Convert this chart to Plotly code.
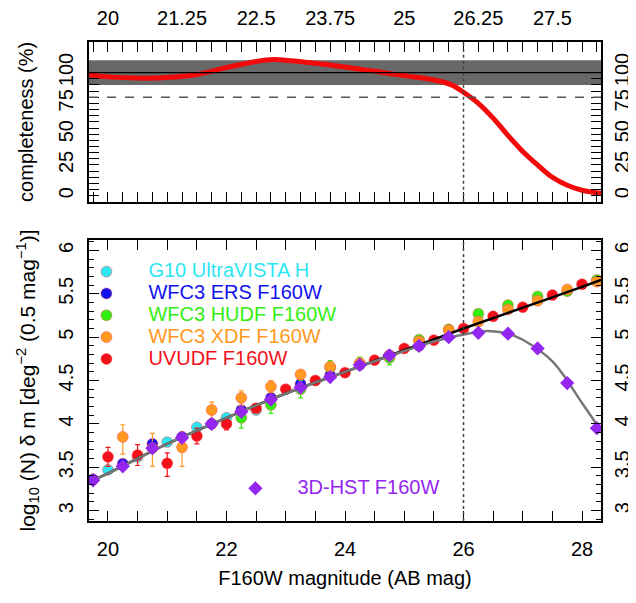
import plotly.graph_objects as go

# ---------------- data ----------------
# completeness curve (top panel)
comp_mag = [19.68, 20.0, 20.5, 21.0, 21.5, 22.0, 22.5, 22.8, 23.0, 23.5, 24.0, 24.5, 25.0, 25.5, 25.8,
            26.0, 26.25, 26.5, 26.75, 27.0, 27.25, 27.5, 27.75, 28.0, 28.32]
comp_pct = [98, 96.5, 95.5, 96, 98.5, 104, 109, 110.5, 110, 107.5, 104.5, 101, 97.5, 94, 90,
            84, 75, 63, 49, 36, 25, 15, 8.5, 4.5, 2]
band_limits = [90, 110]
ref_level = 100
threshold_level = 80
mag_limit = 26.0

# number counts (bottom panel)
g10_mag = [20.0, 20.5, 21.0, 21.5, 22.0, 22.5]
g10_logn = [3.47, 3.62, 3.79, 3.96, 4.07, 4.16]

ers_mag = [19.75, 20.25, 20.75, 21.25, 21.75, 22.25, 22.75, 23.25, 23.75, 24.25, 24.75, 25.25]
ers_logn = [3.36, 3.54, 3.77, 3.85, 4.0, 4.16, 4.3, 4.46, 4.56, 4.68, 4.79, 4.9]

hudf_mag = [22.25, 22.75, 23.25, 23.75, 24.25, 24.75, 25.25, 25.75, 26.25, 26.75, 27.25, 27.75, 28.25]
hudf_logn = [4.07, 4.22, 4.4, 4.65, 4.7, 4.76, 4.97, 5.09, 5.27, 5.37, 5.47, 5.53, 5.66]
hudf_err = [0.12, 0.1, 0.1, 0.08, 0.07, 0.08, 0.05, 0.04, 0.03, 0.03, 0.02, 0.02, 0.02]

xdf_mag = [20.25, 20.75, 21.25, 21.75, 22.25, 22.75, 23.25, 23.75, 24.25, 24.75, 25.25, 25.75,
           26.25, 26.75, 27.25, 27.75, 28.25]
xdf_logn = [3.85, 3.72, 3.73, 4.16, 4.3, 4.43, 4.57, 4.66, 4.7, 4.79, 4.95, 5.08,
            5.18, 5.32, 5.42, 5.55, 5.64]
xdf_err_plus = [0.14, 0.17, 0.18, 0.09, 0.08, 0.07, 0.05, 0.04, 0.04, 0.03, 0.03, 0.02,
                0.02, 0.02, 0.02, 0.02, 0.02]
xdf_err_minus = [0.2, 0.21, 0.22, 0.1, 0.09, 0.07, 0.05, 0.04, 0.04, 0.03, 0.03, 0.02,
                 0.02, 0.02, 0.02, 0.02, 0.02]

uvudf_mag = [20.0, 20.5, 21.0, 21.5, 22.0, 22.5, 23.0, 23.5, 24.0, 24.5, 25.0, 25.5, 26.0,
             26.5, 27.0, 27.5, 28.0]
uvudf_logn = [3.62, 3.64, 3.545, 3.86, 4.0, 4.18, 4.4, 4.5, 4.59, 4.735, 4.87, 4.965, 5.1,
              5.24, 5.345, 5.485, 5.61]
uvudf_err_plus = [0.11, 0.12, 0.12, 0.09, 0.07, 0.05, 0.04, 0.03, 0.03, 0.02, 0.02, 0.02, 0.02,
                  0.02, 0.02, 0.02, 0.02]
uvudf_err_minus = [0.11, 0.12, 0.15, 0.09, 0.07, 0.05, 0.04, 0.03, 0.03, 0.02, 0.02, 0.02, 0.02,
                   0.02, 0.02, 0.02, 0.02]

hst3d_mag = [19.75, 20.25, 20.75, 21.25, 21.75, 22.25, 22.75, 23.25, 23.75, 24.25, 24.75, 25.25,
             25.75, 26.25, 26.75, 27.25, 27.75, 28.25]
hst3d_logn = [3.35, 3.51, 3.72, 3.84, 4.0, 4.14, 4.28, 4.42, 4.54, 4.68, 4.79, 4.9,
              5.0, 5.05, 5.04, 4.87, 4.47, 3.95]

fit_all_mag = [19.68, 20, 21, 22, 23, 24, 25, 26, 27, 28, 28.32]
fit_all_logn = [3.33, 3.43, 3.77, 4.07, 4.35, 4.6, 4.85, 5.1, 5.34, 5.58, 5.66]

fit_3d_mag = [19.68, 20, 21, 22, 23, 24, 25, 25.5, 26, 26.4, 26.75, 27, 27.5, 28, 28.32]
fit_3d_logn = [3.33, 3.43, 3.77, 4.07, 4.35, 4.6, 4.84, 4.95, 5.03, 5.07, 5.04, 4.97, 4.72, 4.24, 3.92]

top_ticks = [20, 21.25, 22.5, 23.75, 25, 26.25, 27.5]
top_ticktext = ["20", "21.25", "22.5", "23.75", "25", "26.25", "27.5"]
comp_ticks = [0, 25, 50, 75, 100]
bot_xticks = [20, 22, 24, 26, 28]
bot_yticks = [3, 3.5, 4, 4.5, 5, 5.5, 6]
bot_yticktext = ["3", "3.5", "4", "4.5", "5", "5.5", "6"]

# ---------------- style ----------------
FONT = "Liberation Sans, Arial, Helvetica, sans-serif"
C_CYAN = "#2DE6F2"
C_BLUE = "#1212EE"
C_GREEN = "#33EE11"
C_ORANGE = "#FF9922"
C_RED = "#F2101A"
C_PURPLE = "#9426F0"
HALO = "rgba(255,70,70,0.45)"

XR = [19.68, 28.32]

fig = go.Figure()

# top panel
fig.add_shape(type="rect", xref="x domain", x0=0, x1=1, yref="y",
              y0=band_limits[0], y1=band_limits[1], fillcolor="#686868",
              line_width=0, layer="below")
fig.add_shape(type="line", xref="x domain", x0=0, x1=1, yref="y",
              y0=ref_level, y1=ref_level, line=dict(color="black", width=1.2))
fig.add_shape(type="line", xref="x domain", x0=0, x1=1, yref="y",
              y0=threshold_level, y1=threshold_level,
              line=dict(color="#555555", width=1.5, dash="dash"))
fig.add_shape(type="line", xref="x", x0=mag_limit, x1=mag_limit, yref="y domain",
              y0=0, y1=1, line=dict(color="#444444", width=1.5, dash="dot"))
fig.add_shape(type="line", xref="x2", x0=mag_limit, x1=mag_limit, yref="y2 domain",
              y0=0, y1=1, line=dict(color="#444444", width=1.5, dash="dot"))

fig.add_trace(go.Scatter(x=comp_mag, y=comp_pct, mode="lines", line_shape="spline",
                         line=dict(color="#F20A0A", width=5), showlegend=False,
                         xaxis="x", yaxis="y"))
# placeholders so the label-only overlay axes are drawn
fig.add_trace(go.Scatter(x=[None], y=[None], xaxis="x", yaxis="y3", showlegend=False))
fig.add_trace(go.Scatter(x=[None], y=[None], xaxis="x3", yaxis="y", showlegend=False))


def lab(text, color):
    return "<span style='color:%s;font-size:20px'>%s</span>" % (color, text)


def circ(name, color, x, y, ep=None, em=None):
    err = None
    if ep is not None:
        err = dict(type="data", array=ep, arrayminus=em if em is not None else ep,
                   color=color, thickness=1.2, width=2.5)
    return go.Scatter(x=x, y=y, mode="markers", name=lab(name, color),
                      marker=dict(symbol="circle", size=11, color=color,
                                  line=dict(color=HALO, width=1)),
                      error_y=err, xaxis="x2", yaxis="y2", legend="legend")


fig.add_trace(circ("G10 UltraVISTA H", C_CYAN, g10_mag, g10_logn))
fig.add_trace(circ("WFC3 ERS F160W", C_BLUE, ers_mag, ers_logn))
fig.add_trace(circ("WFC3 HUDF F160W", C_GREEN, hudf_mag, hudf_logn, hudf_err))
fig.add_trace(circ("WFC3 XDF F160W", C_ORANGE, xdf_mag, xdf_logn, xdf_err_plus, xdf_err_minus))
fig.add_trace(circ("UVUDF F160W", C_RED, uvudf_mag, uvudf_logn, uvudf_err_plus, uvudf_err_minus))

fig.add_trace(go.Scatter(x=fit_all_mag, y=fit_all_logn, mode="lines", line_shape="spline",
                         line=dict(color="black", width=2.5), showlegend=False,
                         xaxis="x2", yaxis="y2"))
fig.add_trace(go.Scatter(x=fit_3d_mag, y=fit_3d_logn, mode="lines", line_shape="spline",
                         line=dict(color="#777777", width=2.5), showlegend=False,
                         xaxis="x2", yaxis="y2"))
fig.add_trace(go.Scatter(x=hst3d_mag, y=hst3d_logn, mode="markers",
                         name=lab("3D-HST F160W", C_PURPLE),
                         marker=dict(symbol="diamond", size=11, color=C_PURPLE),
                         showlegend=True, legend="legend2", xaxis="x2", yaxis="y2"))
fig.add_trace(go.Scatter(x=[None], y=[None], xaxis="x2", yaxis="y4", showlegend=False))

TF = dict(family=FONT, size=20, color="black")
common_x = dict(range=XR, showline=True, linecolor="black", linewidth=2, mirror="allticks",
                ticks="inside", ticklen=10, tickwidth=1.2, tickcolor="black",
                showgrid=False, zeroline=False, tickfont=TF, automargin=False)

# page body keeps an 8px default margin, so the figure is 8px smaller than the window
fig.update_layout(
    width=628, height=595,
    margin=dict(l=81, r=35, t=34, b=82, autoexpand=False),
    paper_bgcolor="white", plot_bgcolor="white",
    font=dict(family=FONT, size=20, color="black"),
    xaxis=dict(common_x, domain=[0, 1], anchor="y", side="top",
               tickvals=top_ticks, showticklabels=False,
               minor=dict(dtick=0.25, tick0=20, ticklen=5, ticks="inside", tickcolor="black")),
    xaxis3=dict(overlaying="x", anchor="y", side="top", range=XR, tickvals=top_ticks,
                ticktext=top_ticktext, ticks="outside", ticklen=8,
                tickcolor="rgba(0,0,0,0)", showline=False, showgrid=False, zeroline=False,
                tickfont=TF, automargin=False),
    yaxis=dict(domain=[0.6666, 1], anchor="x", range=[-4.8, 124.8], showline=True,
               linecolor="black", linewidth=2, mirror="allticks", ticks="inside", ticklen=10,
               tickwidth=1.2, tickcolor="black", tickvals=comp_ticks, tickangle=-90,
               ticklabelstandoff=6, showgrid=False, zeroline=False, tickfont=TF,
               automargin=False,
               minor=dict(tickvals=list(range(0, 101, 5)), ticklen=5, ticks="inside",
                          tickcolor="black"),
               title=dict(text="completeness (%)", font=TF, standoff=16)),
    yaxis3=dict(overlaying="y", anchor="x", side="right", range=[-4.8, 124.8],
                tickvals=comp_ticks, tickangle=-90, ticks="", showgrid=False,
                zeroline=False, showline=False, tickfont=TF, ticklabelstandoff=7,
                automargin=False),
    xaxis2=dict(common_x, domain=[0, 1], anchor="y2", side="bottom",
                tickvals=bot_xticks, ticklabelstandoff=9,
                minor=dict(dtick=0.5, tick0=20, ticklen=5, ticks="inside", tickcolor="black"),
                title=dict(text="F160W magnitude (AB mag)", font=TF, standoff=12)),
    yaxis2=dict(domain=[0, 0.5866], anchor="x2", range=[2.88, 6.12], showline=True,
                linecolor="black", linewidth=2, mirror="allticks", ticks="inside", ticklen=10,
                tickwidth=1.2, tickcolor="black", tickvals=bot_yticks, ticktext=bot_yticktext,
                tickangle=-90, ticklabelstandoff=6, showgrid=False, zeroline=False,
                tickfont=TF, automargin=False,
                minor=dict(dtick=0.1, tick0=3, ticklen=5, ticks="inside", tickcolor="black"),
                title=dict(text="log<sub>10</sub> (N) \u03b4 m [deg<sup>\u22122</sup> (0.5 mag<sup>\u22121</sup>)]",
                           font=dict(family=FONT, size=21, color="black"), standoff=14)),
    yaxis4=dict(overlaying="y2", anchor="x2", side="right", range=[2.88, 6.12],
                tickvals=bot_yticks, ticktext=bot_yticktext, tickangle=-90, ticks="",
                showgrid=False, zeroline=False, showline=False, tickfont=TF,
                ticklabelstandoff=7, automargin=False),
    legend=dict(x=-0.048, y=0.554, xanchor="left", yanchor="top", bgcolor="rgba(0,0,0,0)",
                font=dict(family=FONT, size=14.5), itemwidth=74, tracegroupgap=0,
                traceorder="normal"),
    legend2=dict(x=0.243, y=0.1015, xanchor="left", yanchor="top", bgcolor="rgba(0,0,0,0)",
                 font=dict(family=FONT, size=14.5), itemwidth=74),
    showlegend=True,
)

fig.write_html("out.html")
